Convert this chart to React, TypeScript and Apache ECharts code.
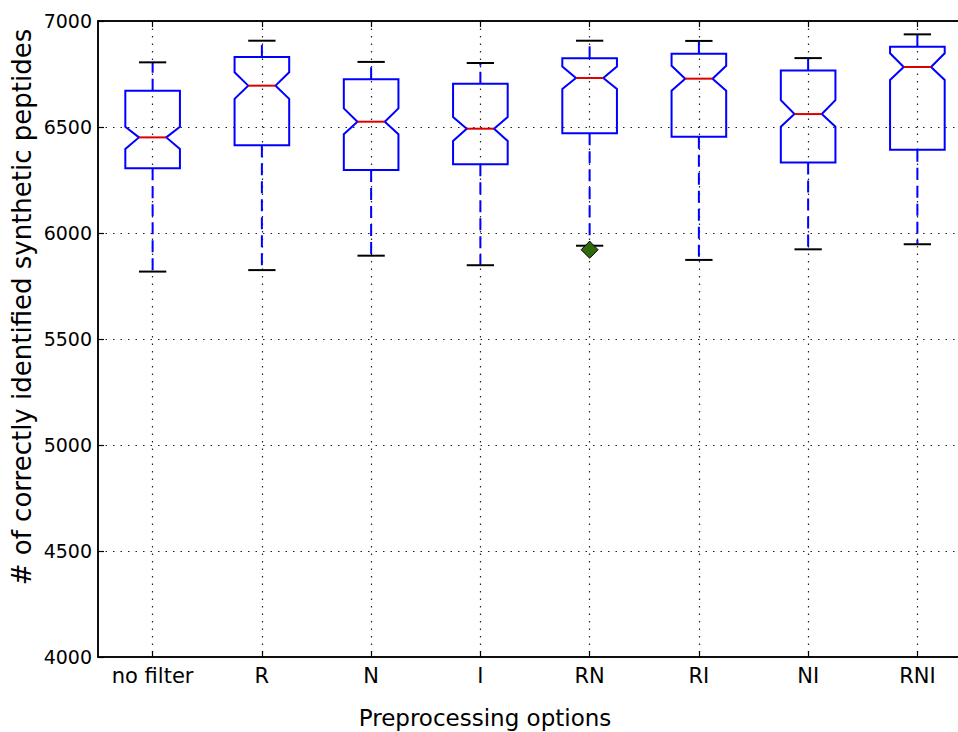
import React, { useEffect, useRef } from "react";
import * as echarts from "echarts";

const categories = ["no filter", "R", "N", "I", "RN", "RI", "NI", "RNI"];
const lowWhisker = [5818, 5825, 5893, 5848, 5940, 5873, 5923, 5947];
const q1 = [6305, 6414, 6297, 6324, 6470, 6454, 6332, 6393];
const notchLow = [6396, 6633, 6466, 6434, 6679, 6671, 6501, 6722];
const median = [6451, 6695, 6525, 6492, 6731, 6728, 6561, 6783];
const notchHigh = [6501, 6758, 6588, 6547, 6785, 6789, 6627, 6848];
const q3 = [6671, 6830, 6725, 6704, 6824, 6846, 6766, 6879];
const highWhisker = [6805, 6907, 6807, 6802, 6907, 6906, 6825, 6937];
const outliers: [string, number][] = [["RN", 5921]];
const yTicks = { min: 4000, max: 7000, step: 500 };

const FONT = "DejaVu Sans";

export default function App() {
  const ref = useRef<HTMLDivElement>(null);
  useEffect(() => {
    if (!ref.current) return;
    const chart = echarts.init(ref.current, null, { renderer: "svg" });
    const boxData = categories.map((_, i) => [
      i,
      lowWhisker[i],
      q1[i],
      notchLow[i],
      median[i],
      notchHigh[i],
      q3[i],
      highWhisker[i],
    ]);
    const blue = "#0000ff";
    const red = "#dd0000";
    const dotted = { color: "#222", width: 1.2, type: [1.5, 6] as number[] };
    chart.setOption({
      animation: false,
      backgroundColor: "#fff",
      grid: {
        left: 98,
        top: 21,
        width: 874,
        bottom: 75,
        outerBoundsMode: "none",
        containLabel: false,
        show: true,
        borderColor: "#000",
        borderWidth: 1.5,
        backgroundColor: "#fff",
      },
      xAxis: [
        {
          type: "category",
          data: categories,
          position: "bottom",
          axisLine: { show: true, lineStyle: { color: "#000", width: 1.5 } },
          axisTick: { show: true, inside: true, length: 6, interval: 0, alignWithLabel: true, lineStyle: { color: "#000", width: 1.2 } },
          axisLabel: { color: "#000", fontFamily: FONT, fontSize: 21, margin: 8, interval: 0, hideOverlap: false },
          splitLine: { show: true, interval: 0, alignWithLabel: true, lineStyle: dotted },
        },
        {
          type: "category",
          data: categories,
          position: "top",
          axisLine: { show: true, lineStyle: { color: "#000", width: 1.5 } },
          axisTick: { show: true, inside: true, length: 6, interval: 0, alignWithLabel: true, lineStyle: { color: "#000", width: 1.2 } },
          axisLabel: { show: false },
          splitLine: { show: false },
        },
      ],
      yAxis: {
        type: "value",
        min: yTicks.min,
        max: yTicks.max,
        interval: yTicks.step,
        axisLine: { show: true, lineStyle: { color: "#000", width: 1.5 } },
        axisTick: { show: true, inside: true, length: 6, lineStyle: { color: "#000", width: 1.2 } },
        axisLabel: {
          color: "#000",
          fontFamily: FONT,
          fontSize: 19,
          margin: 6,
          formatter: (v: number) => String(v),
        },
        splitLine: { show: true, lineStyle: dotted },
      },
      graphic: [
        {
          type: "text",
          x: 22,
          y: 307,
          rotation: Math.PI / 2,
          style: {
            text: "# of correctly identified synthetic peptides",
            fontFamily: FONT,
            fontSize: 26,
            fill: "#000",
            textAlign: "center",
            textVerticalAlign: "middle",
          },
        },
        {
          type: "text",
          x: 485,
          y: 718,
          style: {
            text: "Preprocessing options",
            fontFamily: FONT,
            fontSize: 23,
            fill: "#000",
            textAlign: "center",
            textVerticalAlign: "middle",
          },
        },
      ],
      series: [
        {
          type: "custom",
          data: boxData,
          encode: { x: 0, y: [1, 2, 3, 4, 5, 6, 7] },
          z: 3,
          renderItem: (params: any, api: any) => {
            const xi = api.value(0);
            const cx = api.coord([xi, api.value(4)])[0];
            const band = api.size([1, 0])[0];
            const hw = band * 0.25;
            const ww = band * 0.125;
            const Y = (v: number) => api.coord([xi, v])[1];
            const yLow = Y(api.value(1));
            const yQ1 = Y(api.value(2));
            const yNL = Y(api.value(3));
            const yMed = Y(api.value(4));
            const yNH = Y(api.value(5));
            const yQ3 = Y(api.value(6));
            const yHigh = Y(api.value(7));
            const whiskerStyle = { stroke: blue, lineWidth: 2, lineDash: [12, 6], fill: "none" };
            const capStyle = { stroke: "#000", lineWidth: 2 };
            return {
              type: "group",
              children: [
                { type: "line", shape: { x1: cx, y1: yQ3, x2: cx, y2: yHigh }, style: whiskerStyle },
                { type: "line", shape: { x1: cx, y1: yQ1, x2: cx, y2: yLow }, style: whiskerStyle },
                { type: "line", shape: { x1: cx - ww, y1: yHigh, x2: cx + ww, y2: yHigh }, style: capStyle },
                { type: "line", shape: { x1: cx - ww, y1: yLow, x2: cx + ww, y2: yLow }, style: capStyle },
                {
                  type: "polygon",
                  shape: {
                    points: [
                      [cx - hw, yQ1],
                      [cx + hw, yQ1],
                      [cx + hw, yNL],
                      [cx + ww, yMed],
                      [cx + hw, yNH],
                      [cx + hw, yQ3],
                      [cx - hw, yQ3],
                      [cx - hw, yNH],
                      [cx - ww, yMed],
                      [cx - hw, yNL],
                    ],
                  },
                  style: { stroke: blue, lineWidth: 2, fill: "none" },
                },
                { type: "line", shape: { x1: cx - ww, y1: yMed, x2: cx + ww, y2: yMed }, style: { stroke: red, lineWidth: 2 } },
              ],
            };
          },
        },
        {
          type: "scatter",
          data: outliers,
          symbol: "diamond",
          symbolSize: 17,
          z: 5,
          itemStyle: { color: "#2f6a0c", borderColor: "#000", borderWidth: 1, opacity: 1 },
        },
      ],
    });
    return () => chart.dispose();
  }, []);
  return (
    <div
      ref={ref}
      style={{ position: "fixed", left: 0, top: 0, width: 958, height: 732, background: "#fff" }}
    />
  );
}
